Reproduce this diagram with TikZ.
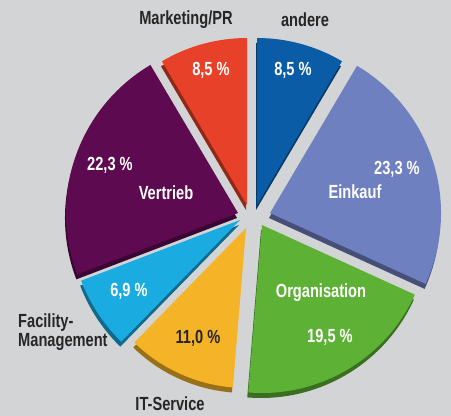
\documentclass[tikz,border=0pt]{standalone}
\usepackage{fontspec}
\newfontfamily\cond{Liberation Sans}[FakeStretch=0.77]
\definecolor{bgc}{HTML}{D3D4D6}
\definecolor{cred}{HTML}{E8412A}
\definecolor{cblue}{HTML}{0B5CA6}
\definecolor{cein}{HTML}{6F80C0}
\definecolor{cgreen}{HTML}{5DB135}
\definecolor{cyel}{HTML}{F5B427}
\definecolor{ccyan}{HTML}{1AABE0}
\definecolor{cpurp}{HTML}{5E0A50}
\definecolor{txtdark}{HTML}{262626}
\newcommand\pieslice[6]{%
  \fill[#6!62!black, shift={(-1,-5)}] (#1,#2) -- ++(#3:#5) arc[start angle=#3, end angle=#4, radius=#5] -- cycle;
  \fill[#6] (#1,#2) -- ++(#3:#5) arc[start angle=#3, end angle=#4, radius=#5] -- cycle;
}
\begin{document}
\begin{tikzpicture}[x=1pt,y=1pt,
  lbl/.style={font=\cond\bfseries\fontsize{19}{20}\selectfont, inner sep=0pt},
  inlbl/.style={lbl, text=white},
  outlbl/.style={lbl, text=txtdark}]
\useasboundingbox (0,0) rectangle (451,416);
\fill[bgc] (0,0) rectangle (451,416);
% slices: apex x, apex y, start angle, end angle, radius, colour
\pieslice{257}{211}{59.4}{90}{167}{cblue}
\pieslice{270}{203}{-24.5}{59.4}{171}{cein}
\pieslice{262}{191}{-94.7}{-24.5}{168}{cgreen}
\pieslice{246}{188}{-134.3}{-94.7}{160}{cyel}
\pieslice{240}{196}{-159.1}{-134.3}{170}{ccyan}
\pieslice{238}{203}{120.6}{200.9}{172}{cpurp}
\pieslice{247}{211}{90}{120.6}{167}{cred}
% labels
\node[outlbl] (mkt) at (186,396) {Marketing/PR};
\node[outlbl] (and) at (305,396) {andere};
\node[inlbl] (mktv) at (211,346) {8,5 \%};
\node[inlbl] (andv) at (293,346) {8,5 \%};
\node[inlbl] (einv) at (397,247) {23,3 \%};
\node[inlbl] (ein) at (355,224) {Einkauf};
\node[inlbl] (verv) at (110,251) {22,3 \%};
\node[inlbl] (ver) at (166,223) {Vertrieb};
\node[inlbl] (org) at (321,123) {Organisation};
\node[inlbl] (orgv) at (330,79) {19,5 \%};
\node[inlbl] (facv) at (129,125) {6,9 \%};
\node[lbl, text=txtdark] (itv) at (198,78) {11,0 \%};
\node[outlbl, align=left, anchor=west] (fac) at (18,84) {Facility-\\[-1pt]Management};
\node[outlbl, anchor=base] (it) at (170,5) {IT-Service};
\end{tikzpicture}
\end{document}
